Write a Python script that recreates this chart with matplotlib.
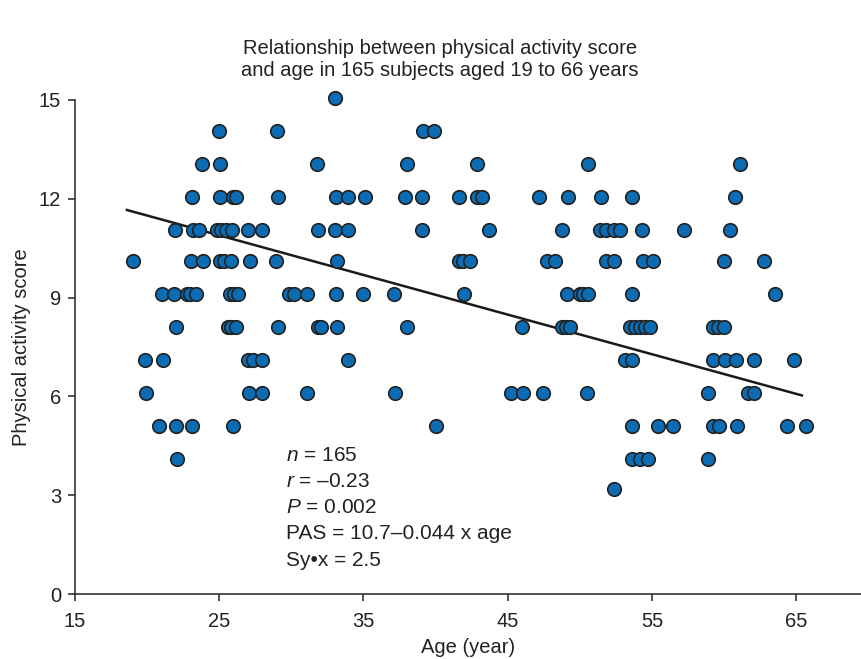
import matplotlib
matplotlib.use("Agg")
import matplotlib.pyplot as plt

# ages read per score row (points that sit on the same score level)
rows = {
    15.05: [33.05],
    14.05: [25.0, 29.0, 39.1, 39.9],
    13.05: [23.8, 25.05, 31.8, 38.0, 42.9, 50.6, 61.1],
    12.05: [23.1, 25.05, 25.95, 26.15, 29.05, 33.1, 33.9, 35.1, 37.9, 39.05,
            41.6, 42.85, 43.25, 47.2, 49.15, 51.5, 53.6, 60.75],
    11.05: [21.9, 23.15, 23.6, 24.85, 25.15, 25.5, 25.9, 27.0, 27.95, 31.85,
            33.05, 33.9, 39.05, 43.7, 48.75, 51.4, 51.85, 52.35, 52.8, 54.3,
            57.25, 60.45],
    10.1: [19.05, 23.05, 23.9, 25.05, 25.3, 25.85, 27.1, 28.95, 33.15, 41.65,
           41.9, 42.4, 47.75, 48.25, 51.85, 52.4, 54.35, 55.1, 60.0, 62.75],
    9.1: [21.05, 21.85, 22.75, 23.0, 23.4, 25.75, 26.0, 26.3, 29.85, 30.2,
          31.1, 33.1, 35.0, 37.1, 41.95, 49.1, 50.0, 50.25, 50.55, 53.6, 63.55],
    8.1: [22.0, 25.6, 25.85, 26.15, 29.1, 31.85, 32.05, 33.15, 38.0, 46.0,
          48.75, 49.05, 49.35, 53.5, 53.85, 54.2, 54.55, 54.85, 59.25, 59.6, 60.0],
    7.1: [19.85, 21.1, 27.0, 27.35, 27.95, 33.9, 53.15, 53.65, 59.25, 60.05,
          60.85, 62.1, 64.85],
    6.1: [19.95, 27.05, 27.95, 31.1, 37.2, 45.2, 46.05, 47.45, 50.5, 58.9,
          61.65, 62.1],
    5.1: [20.85, 22.0, 23.1, 25.95, 40.05, 53.65, 55.4, 56.45, 59.25, 59.65,
          60.9, 64.35, 65.7],
    4.1: [22.05, 53.65, 54.2, 54.75, 58.9],
    3.2: [52.4],
}

ages = []
scores = []
for s, xs in rows.items():
    for a in xs:
        ages.append(a)
        scores.append(s)

# fitted line as drawn in the figure
line_x = [18.6, 65.4]
line_y = [11.66, 6.03]

stats = [r"$\it{n}$ = 165", r"$\it{r}$ = –0.23", r"$\it{P}$ = 0.002",
         "PAS = 10.7–0.044 x age", "Sy•x = 2.5"]

plt.rcParams['font.family'] = ['Liberation Sans', 'DejaVu Sans']
plt.rcParams['mathtext.fontset'] = 'custom'
plt.rcParams['mathtext.it'] = 'Liberation Sans:italic'
plt.rcParams['mathtext.rm'] = 'Liberation Sans'

fig = plt.figure(figsize=(8.61, 6.59), dpi=100)
ax = fig.add_axes([0.0871, 0.0986, 0.9129, 0.7497])

ax.plot(line_x, line_y, color='#1a1a1a', lw=1.8, zorder=2)
ax.scatter(ages, scores, s=95, color='#0b6cb4', edgecolors='#222222',
           linewidths=1.2, zorder=3, clip_on=False)

ax.set_xlim(15, 69.5)
ax.set_ylim(0, 15)
ax.set_xticks([15, 25, 35, 45, 55, 65])
ax.set_yticks([0, 3, 6, 9, 12, 15])
for side in ['top', 'right']:
    ax.spines[side].set_visible(False)
for side in ['left', 'bottom']:
    ax.spines[side].set_color('#333333')
    ax.spines[side].set_linewidth(1.2)
ax.tick_params(direction='out', length=5, width=1.2, color='#333333',
               labelsize=14.5, pad=5, labelcolor='#222222')
ax.tick_params(axis='x', pad=8)

ax.set_xlabel('Age (year)', fontsize=14.5, labelpad=5, color='#222222')
ax.set_ylabel('Physical activity score', fontsize=14.5, labelpad=6,
              color='#222222')

fig.text(0.511, 0.909, 'Relationship between physical activity score\n'
         'and age in 165 subjects aged 19 to 66 years',
         ha='center', va='center', fontsize=14.5, linespacing=1.2,
         color='#222222')

for i, t in enumerate(stats):
    ax.text(29.65, 4.21 - i * 0.795, t, fontsize=15, va='center',
            ha='left', color='#222222')

fig.savefig('out.png', dpi=100)
